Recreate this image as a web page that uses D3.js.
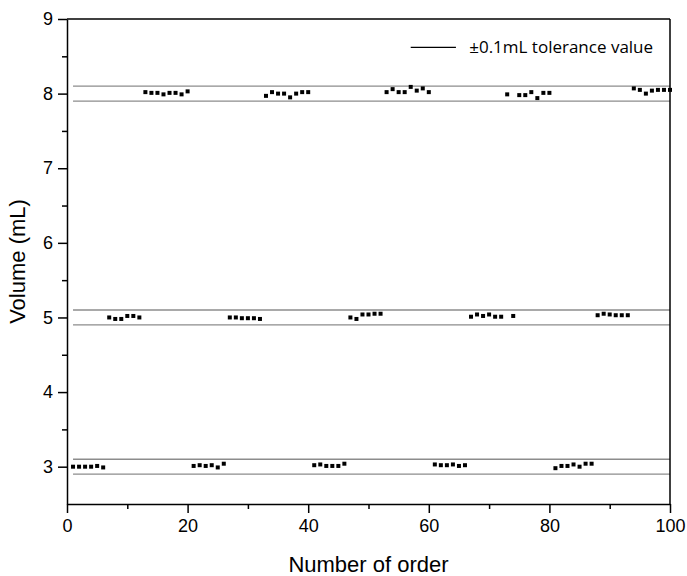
<!DOCTYPE html>
<html>
<head>
<meta charset="utf-8">
<script src="https://cdn.jsdelivr.net/npm/d3@7"></script>
<style>
  body { margin: 0; background: #fff; }
  .axis path, .axis line { stroke: #000; stroke-width: 1.5; }
</style>
</head>
<body>
<div id="chart"></div>
<script>
// order numbers and measured volumes
const order = d3.range(1, 101);
const volume = [
  3.00, 3.00, 3.00, 3.00, 3.01, 2.99,
  5.00, 4.98, 4.98, 5.02, 5.02, 5.00,
  8.02, 8.01, 8.01, 7.99, 8.01, 8.01, 7.99, 8.03,
  3.01, 3.02, 3.01, 3.02, 2.99, 3.04,
  5.00, 5.00, 4.99, 4.99, 4.99, 4.98,
  7.97, 8.02, 8.00, 8.00, 7.95, 8.00, 8.02, 8.02,
  3.02, 3.03, 3.01, 3.01, 3.01, 3.04,
  5.00, 4.98, 5.04, 5.04, 5.05, 5.05,
  8.02, 8.06, 8.02, 8.02, 8.09, 8.04, 8.07, 8.02,
  3.03, 3.02, 3.02, 3.03, 3.01, 3.02,
  5.01, 5.04, 5.02, 5.04, 5.01, 5.01,
  7.99, 5.02, 7.98, 7.98, 8.02, 7.94, 8.01, 8.01,
  2.98, 3.01, 3.01, 3.03, 3.00, 3.04, 3.04,
  5.03, 5.05, 5.04, 5.03, 5.03, 5.03,
  8.07, 8.05, 8.00, 8.04, 8.05, 8.05, 8.05
];
const targets = [3, 5, 8];
const tolerance = 0.1;
const legendLabel = "±0.1mL tolerance value";

const margin = { top: 19, right: 17, bottom: 72, left: 67 };
const totalW = 687, totalH = 576;
const width = totalW - margin.left - margin.right;
const height = totalH - margin.top - margin.bottom;
const font = "Arial, 'Liberation Sans', Helvetica, sans-serif";

const svg = d3.select("#chart")
  .append("svg")
  .attr("width", totalW)
  .attr("height", totalH)
  .append("g")
  .attr("transform", `translate(${margin.left},${margin.top})`);

const x = d3.scaleLinear().domain([0, 100]).range([0, width]);
const y = d3.scaleLinear().domain([2.5, 9]).range([height, 0]);

// tolerance lines
const limits = targets.flatMap((t) => [t + tolerance, t - tolerance]);
svg.selectAll("line.tol")
  .data(limits)
  .join("line")
  .attr("class", "tol")
  .attr("x1", x(1))
  .attr("x2", x(100))
  .attr("y1", (d) => y(d))
  .attr("y2", (d) => y(d))
  .attr("stroke", "#8c8c8c")
  .attr("stroke-width", 1.3);

// points
const s = 4;
svg.selectAll("rect.pt")
  .data(order)
  .join("rect")
  .attr("class", "pt")
  .attr("x", (d) => x(d) - s / 2)
  .attr("y", (d, i) => y(volume[i]) - s / 2)
  .attr("width", s)
  .attr("height", s)
  .attr("fill", "#000");

// minor ticks
svg.append("g")
  .attr("class", "axis")
  .attr("transform", `translate(0,${height})`)
  .call(d3.axisBottom(x).tickValues(d3.range(10, 100, 20)).tickSize(5).tickFormat(""))
  .select(".domain").remove();
svg.append("g")
  .attr("class", "axis")
  .call(d3.axisLeft(y).tickValues(d3.range(3.5, 9, 1)).tickSize(5).tickFormat(""))
  .select(".domain").remove();

// major axes
svg.append("g")
  .attr("class", "axis")
  .attr("transform", `translate(0,${height})`)
  .call(d3.axisBottom(x).tickValues(d3.range(0, 101, 20)).tickSize(9).tickSizeOuter(0).tickPadding(6).tickFormat(d3.format("d")))
  .attr("font-family", font)
  .attr("font-size", 18);
svg.append("g")
  .attr("class", "axis")
  .call(d3.axisLeft(y).tickValues(d3.range(3, 10, 1)).tickSize(9).tickSizeOuter(0).tickPadding(5).tickFormat(d3.format("d")))
  .attr("font-family", font)
  .attr("font-size", 18);

// top and right frame
svg.append("line")
  .attr("x1", 0).attr("x2", width).attr("y1", 0).attr("y2", 0)
  .attr("stroke", "#000").attr("stroke-width", 1.5);
svg.append("line")
  .attr("x1", width).attr("x2", width).attr("y1", 0).attr("y2", height)
  .attr("stroke", "#000").attr("stroke-width", 1.5);

// legend
svg.append("line")
  .attr("x1", x(57)).attr("x2", x(64.5))
  .attr("y1", y(8.62)).attr("y2", y(8.62))
  .attr("stroke", "#000").attr("stroke-width", 1.3);
svg.append("text")
  .attr("x", x(66.7))
  .attr("y", y(8.62))
  .attr("dy", "0.35em")
  .style("font-family", "'Open Sans', 'Noto Sans', sans-serif")
  .style("font-size", "17px")
  .text(legendLabel);

// axis titles
svg.append("text")
  .attr("x", width / 2)
  .attr("y", height + 68)
  .style("text-anchor", "middle")
  .style("font-family", font)
  .style("font-size", "22px")
  .text("Number of order");

svg.append("text")
  .attr("transform", "rotate(-90)")
  .attr("x", -height / 2)
  .attr("y", -42)
  .style("text-anchor", "middle")
  .style("font-family", font)
  .style("font-size", "22px")
  .text("Volume (mL)");
</script>
</body>
</html>
